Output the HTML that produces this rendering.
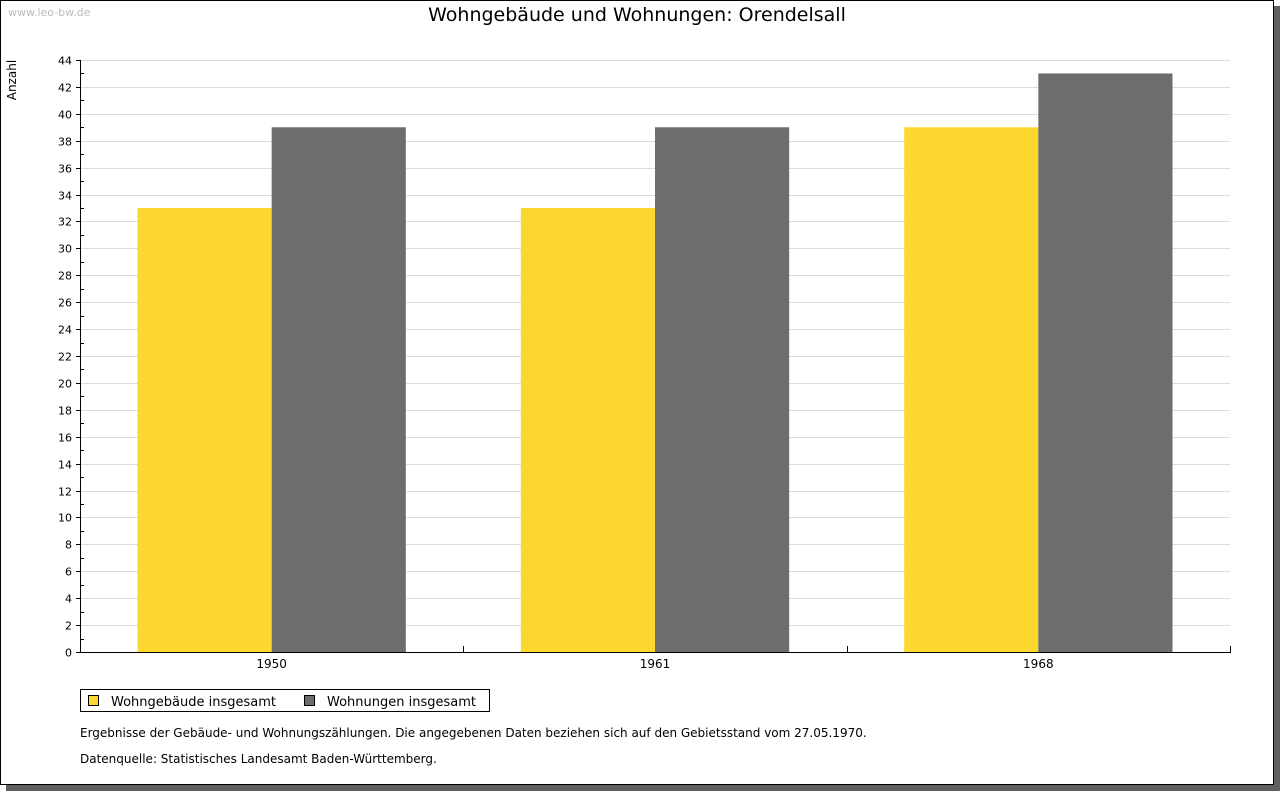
<!DOCTYPE html>
<html><head><meta charset="utf-8"><style>
body{margin:0;background:#fff;}
svg{display:block;font-family:"DejaVu Sans","Liberation Sans",sans-serif;}
</style></head><body>
<svg id="c" width="1280" height="791" xmlns="http://www.w3.org/2000/svg">
<rect x="6" y="6" width="1274" height="785" fill="#606060"/>
<rect x="0.5" y="0.5" width="1273" height="784" fill="#fff" stroke="#000"/>
<text x="8" y="16" font-size="11" fill="#bbb">www.leo-bw.de</text>
<text x="637" y="21" font-size="19" text-anchor="middle" fill="#000">Wohngebäude und Wohnungen: Orendelsall</text>
<text transform="translate(16,80) rotate(-90)" font-size="12" text-anchor="middle">Anzahl</text>
<g id="grid"></g><g id="bars"></g><g id="axes"></g>
<g>
<rect x="80.5" y="689.5" width="409" height="22" fill="#fff" stroke="#000"/>
<rect x="88.5" y="695.5" width="10" height="10" fill="#fcd72d" stroke="#000"/>
<text x="111" y="706" font-size="13">Wohngebäude insgesamt</text>
<rect x="304.5" y="695.5" width="10" height="10" fill="#6d6d6d" stroke="#000"/>
<text x="327" y="706" font-size="13">Wohnungen insgesamt</text>
</g>
<text x="80" y="737" font-size="12">Ergebnisse der Gebäude- und Wohnungszählungen. Die angegebenen Daten beziehen sich auf den Gebietsstand vom 27.05.1970.</text>
<text x="80" y="763" font-size="12">Datenquelle: Statistisches Landesamt Baden-Württemberg.</text>
</svg>
<script>
const categories=["1950","1961","1968"];
const wohngebaeude=[33,33,39];
const wohnungen=[39,39,43];
const yMax=44;
const NS="http://www.w3.org/2000/svg";
const L=80,R=1230,T=60,B=652;
const y=v=>B-(v/yMax)*(B-T);
const cw=(R-L)/categories.length;
const xc=i=>L+cw*(i+0.5);
function mk(t,a,p){const e=document.createElementNS(NS,t);for(const k in a)e.setAttribute(k,a[k]);p.appendChild(e);return e;}
const grid=document.getElementById('grid'),bars=document.getElementById('bars'),axes=document.getElementById('axes');
for(let v=0;v<=yMax;v++){
  const yy=Math.round(y(v))+0.5;
  if(v%2===0){
    if(v>0){const g=mk('line',{x1:L,x2:R,y1:yy,y2:yy,stroke:'#dcdcdc'},grid);
    
    }
    mk('line',{x1:L-4,x2:L,y1:yy,y2:yy,stroke:'#000'},axes);
    const t=mk('text',{x:L-8,y:yy+4,'font-size':11,'text-anchor':'end'},axes);
    t.textContent=v;
    
    
  } else {
    mk('line',{x1:L,x2:L+4,y1:yy,y2:yy,stroke:'#000'},axes);
  }
}
const bw=cw*0.35;
categories.forEach((c,i)=>{
  const a=mk('rect',{x:xc(i)-bw,y:y(wohngebaeude[i]),width:bw,height:B-y(wohngebaeude[i]),fill:'#fcd72d'},bars);
  
  
  const b=mk('rect',{x:xc(i),y:y(wohnungen[i]),width:bw,height:B-y(wohnungen[i]),fill:'#6d6d6d'},bars);
  
  
  const t=mk('text',{x:xc(i),y:B+16,'font-size':12,'text-anchor':'middle'},axes);
  t.textContent=c;
  
  
  const xx=Math.round(L+cw*(i+1))+0.5;
  mk('line',{x1:xx,x2:xx,y1:B-6,y2:B,stroke:'#000'},axes);
});
const ya=mk('line',{x1:L+0.5,x2:L+0.5,y1:T,y2:B+1,stroke:'#000'},axes);


const xa=mk('line',{x1:L,x2:R+1,y1:B+0.5,y2:B+0.5,stroke:'#000'},axes);


</script>
</body></html>
